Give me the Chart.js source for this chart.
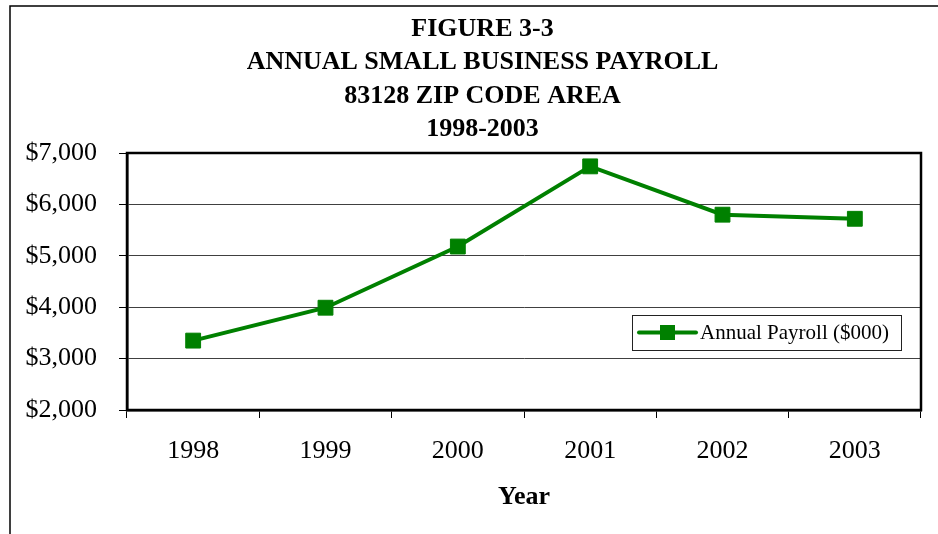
<!DOCTYPE html>
<html>
<head>
<meta charset="utf-8">
<title>Figure 3-3</title>
<script src="https://cdn.jsdelivr.net/npm/chart.js@4/dist/chart.umd.min.js"></script>
<style>
  html, body { margin: 0; padding: 0; background: #fff; }
  canvas { display: block; }
</style>
</head>
<body>
<canvas id="chart" width="938" height="534"></canvas>
<script>
// data
const years = ['1998', '1999', '2000', '2001', '2002', '2003'];
const payroll = [3350, 3990, 5180, 6740, 5800, 5720];
const titleLines = ['FIGURE 3-3', 'ANNUAL SMALL BUSINESS PAYROLL', '83128 ZIP CODE AREA', '1998-2003'];
const seriesLabel = 'Annual Payroll ($000)';
const yMin = 2000, yMax = 7000, yStep = 1000;

const GREEN = '#008000';
const SERIF = "'Liberation Serif', 'Times New Roman', serif";

// outer frame + plot box border
const framePlugin = {
    id: 'frame',
    beforeDraw: function (chart) {
        const ctx = chart.ctx;
        ctx.save();
        ctx.strokeStyle = '#000';
        ctx.lineWidth = 1.5;
        ctx.beginPath();
        ctx.moveTo(10, 600);
        ctx.lineTo(10, 6);
        ctx.lineTo(1000, 6);
        ctx.stroke();
        ctx.restore();
    },
    beforeDatasetsDraw: function (chart) {
        const a = chart.chartArea;
        const ctx = chart.ctx;
        ctx.save();
        ctx.strokeStyle = '#000';
        ctx.lineWidth = 2.5;
        ctx.strokeRect(a.left, a.top, a.right - a.left, a.bottom - a.top);
        ctx.restore();
    }
};

// four-line title; centred a bit left of the plot, as in the figure
const titleBlock = {
    id: 'titleBlock',
    afterDraw: function (chart) {
        const ctx = chart.ctx;
        ctx.save();
        ctx.fillStyle = '#000';
        ctx.font = 'bold 26px ' + SERIF;
        ctx.textAlign = 'center';
        ctx.textBaseline = 'middle';
        titleLines.forEach(function (line, i) {
            ctx.fillText(line, 482.5, 29 + i * 33.4);
        });
        ctx.restore();
    }
};

// legend box drawn inside the plot, as in the figure
const boxLegend = {
    id: 'boxLegend',
    afterDatasetsDraw: function (chart) {
        const ctx = chart.ctx;
        const ds = chart.data.datasets[0];
        const x = 632, y = 315, w = 269, h = 35;
        const cy = y + h / 2;
        ctx.save();
        ctx.fillStyle = '#fff';
        ctx.fillRect(x, y, w, h);
        ctx.strokeStyle = '#222';
        ctx.lineWidth = 1;
        ctx.strokeRect(x + 0.5, y + 0.5, w, h);

        ctx.strokeStyle = ds.borderColor;
        ctx.lineWidth = 4;
        ctx.lineCap = 'round';
        ctx.beginPath();
        ctx.moveTo(x + 7, cy);
        ctx.lineTo(x + 64, cy);
        ctx.stroke();
        ctx.fillStyle = ds.backgroundColor;
        ctx.fillRect(x + 28, cy - 7.5, 15, 15);

        ctx.fillStyle = '#000';
        ctx.font = '21px ' + SERIF;
        ctx.textBaseline = 'middle';
        ctx.textAlign = 'left';
        ctx.fillText(ds.label, x + 68, cy + 1);
        ctx.restore();
    }
};

new Chart(document.getElementById('chart'), {
    type: 'line',
    data: {
        labels: years,
        datasets: [{
            label: seriesLabel,
            data: payroll,
            borderColor: GREEN,
            backgroundColor: GREEN,
            borderWidth: 4,
            tension: 0,
            pointStyle: 'rect',
            pointRadius: 10.5,
            pointBorderWidth: 1,
            pointBackgroundColor: GREEN,
            pointBorderColor: GREEN,
            clip: false
        }]
    },
    options: {
        responsive: false,
        devicePixelRatio: 1,
        animation: false,
        layout: { padding: { left: 12, right: 17, top: 153, bottom: 0 } },
        plugins: {
            legend: { display: false },
            tooltip: { enabled: false },
            title: { display: false }
        },
        scales: {
            x: {
                offset: true,
                afterFit: function (scale) { scale.height = 124; },
                grid: {
                    offset: true,
                    drawOnChartArea: false,
                    drawTicks: true,
                    tickLength: 8,
                    color: '#000',
                    lineWidth: 1
                },
                border: { display: true, color: '#000', width: 2.5 },
                ticks: {
                    color: '#000',
                    font: { family: SERIF, size: 26 },
                    padding: 18,
                    maxRotation: 0
                },
                title: {
                    display: true,
                    text: 'Year',
                    color: '#000',
                    font: { family: SERIF, size: 26, weight: 'bold' },
                    padding: { top: 0, bottom: 21 }
                }
            },
            y: {
                min: yMin,
                max: yMax,
                afterFit: function (scale) { scale.width = 115; },
                grid: {
                    color: '#404040',
                    lineWidth: 1,
                    tickLength: 8,
                    tickColor: '#000'
                },
                border: { display: true, color: '#000', width: 2.5 },
                ticks: {
                    stepSize: yStep,
                    color: '#000',
                    padding: 22,
                    font: { family: SERIF, size: 26 },
                    callback: function (val) { return '$' + Number(val).toLocaleString('en-US'); }
                }
            }
        }
    },
    plugins: [framePlugin, titleBlock, boxLegend]
});
</script>
</body>
</html>
